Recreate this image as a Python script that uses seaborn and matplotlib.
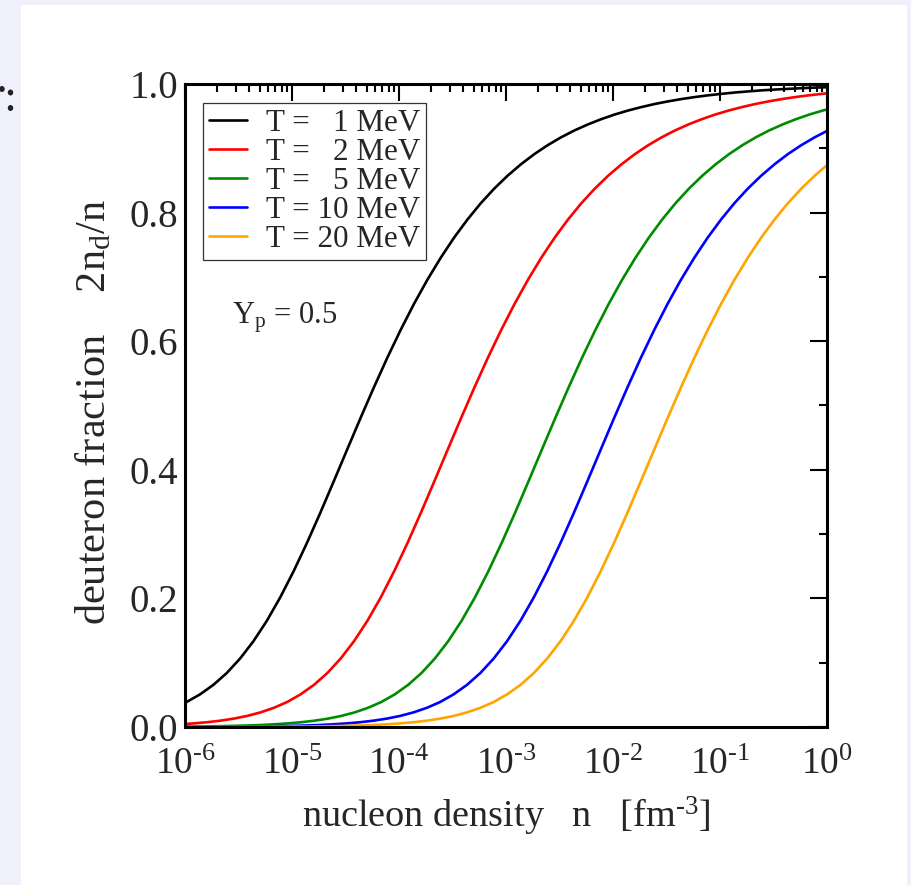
import numpy as np
import pandas as pd
import matplotlib
matplotlib.use("Agg")
import matplotlib.pyplot as plt
from matplotlib.patches import Rectangle
from matplotlib.ticker import LogLocator, MultipleLocator, FixedLocator, FuncFormatter, NullFormatter
import seaborn as sns

# log10 of nucleon density n [fm^-3] and deuteron fraction 2 n_d / n, one pair per temperature
log_n_T1 = [-6.110, -5.985, -5.860, -5.735, -5.610, -5.485, -5.360, -5.235, -5.110, -4.985,
            -4.860, -4.735, -4.610, -4.485, -4.360, -4.235, -4.110, -3.985, -3.860, -3.735,
            -3.610, -3.485, -3.360, -3.235, -3.110, -2.985, -2.860, -2.735, -2.610, -2.485,
            -2.360, -2.235, -2.110, -1.985, -1.860, -1.735, -1.610, -1.485, -1.360, -1.235,
            -1.110, -0.985, -0.860, -0.735, -0.610, -0.485, -0.360, -0.235, -0.110, 0.015]
frac_T1 = [0.0298, 0.0389, 0.0507, 0.0655, 0.0839, 0.1065, 0.1335, 0.1652, 0.2016, 0.2422,
           0.2864, 0.3333, 0.3820, 0.4313, 0.4803, 0.5281, 0.5740, 0.6174, 0.6580, 0.6955,
           0.7298, 0.7611, 0.7893, 0.8147, 0.8373, 0.8574, 0.8752, 0.8910, 0.9049, 0.9171,
           0.9278, 0.9371, 0.9453, 0.9525, 0.9587, 0.9641, 0.9689, 0.9730, 0.9766, 0.9797,
           0.9824, 0.9847, 0.9868, 0.9885, 0.9901, 0.9914, 0.9925, 0.9935, 0.9944, 0.9951]

log_n_T2 = [-6.045, -5.920, -5.795, -5.670, -5.545, -5.420, -5.295, -5.170, -5.045, -4.920,
            -4.795, -4.670, -4.545, -4.420, -4.295, -4.170, -4.045, -3.920, -3.795, -3.670,
            -3.545, -3.420, -3.295, -3.170, -3.045, -2.920, -2.795, -2.670, -2.545, -2.420,
            -2.295, -2.170, -2.045, -1.920, -1.795, -1.670, -1.545, -1.420, -1.295, -1.170,
            -1.045, -0.920, -0.795, -0.670, -0.545, -0.420, -0.295, -0.170, -0.045, 0.080]
frac_T2 = [0.0042, 0.0056, 0.0074, 0.0098, 0.0130, 0.0172, 0.0227, 0.0298, 0.0389, 0.0507,
           0.0655, 0.0839, 0.1065, 0.1335, 0.1652, 0.2016, 0.2422, 0.2864, 0.3333, 0.3820,
           0.4313, 0.4803, 0.5281, 0.5740, 0.6174, 0.6580, 0.6955, 0.7298, 0.7611, 0.7893,
           0.8147, 0.8373, 0.8574, 0.8752, 0.8910, 0.9049, 0.9171, 0.9278, 0.9371, 0.9453,
           0.9525, 0.9587, 0.9641, 0.9689, 0.9730, 0.9766, 0.9797, 0.9824, 0.9847, 0.9868]

log_n_T5 = [-6.040, -5.915, -5.790, -5.665, -5.540, -5.415, -5.290, -5.165, -5.040, -4.915,
            -4.790, -4.665, -4.540, -4.415, -4.290, -4.165, -4.040, -3.915, -3.790, -3.665,
            -3.540, -3.415, -3.290, -3.165, -3.040, -2.915, -2.790, -2.665, -2.540, -2.415,
            -2.290, -2.165, -2.040, -1.915, -1.790, -1.665, -1.540, -1.415, -1.290, -1.165,
            -1.040, -0.915, -0.790, -0.665, -0.540, -0.415, -0.290, -0.165, -0.040, 0.085]
frac_T5 = [0.0006, 0.0007, 0.0010, 0.0013, 0.0018, 0.0024, 0.0031, 0.0042, 0.0056, 0.0074,
           0.0098, 0.0130, 0.0172, 0.0227, 0.0298, 0.0389, 0.0507, 0.0655, 0.0839, 0.1065,
           0.1335, 0.1652, 0.2016, 0.2422, 0.2864, 0.3333, 0.3820, 0.4313, 0.4803, 0.5281,
           0.5740, 0.6174, 0.6580, 0.6955, 0.7298, 0.7611, 0.7893, 0.8147, 0.8373, 0.8574,
           0.8752, 0.8910, 0.9049, 0.9171, 0.9278, 0.9371, 0.9453, 0.9525, 0.9587, 0.9641]

log_n_T10 = [-6.115, -5.990, -5.865, -5.740, -5.615, -5.490, -5.365, -5.240, -5.115, -4.990,
             -4.865, -4.740, -4.615, -4.490, -4.365, -4.240, -4.115, -3.990, -3.865, -3.740,
             -3.615, -3.490, -3.365, -3.240, -3.115, -2.990, -2.865, -2.740, -2.615, -2.490,
             -2.365, -2.240, -2.115, -1.990, -1.865, -1.740, -1.615, -1.490, -1.365, -1.240,
             -1.115, -0.990, -0.865, -0.740, -0.615, -0.490, -0.365, -0.240, -0.115, 0.010]
frac_T10 = [0.0001, 0.0002, 0.0002, 0.0003, 0.0004, 0.0006, 0.0007, 0.0010, 0.0013, 0.0018,
            0.0024, 0.0031, 0.0042, 0.0056, 0.0074, 0.0098, 0.0130, 0.0172, 0.0227, 0.0298,
            0.0389, 0.0507, 0.0655, 0.0839, 0.1065, 0.1335, 0.1652, 0.2016, 0.2422, 0.2864,
            0.3333, 0.3820, 0.4313, 0.4803, 0.5281, 0.5740, 0.6174, 0.6580, 0.6955, 0.7298,
            0.7611, 0.7893, 0.8147, 0.8373, 0.8574, 0.8752, 0.8910, 0.9049, 0.9171, 0.9278]

log_n_T20 = [-6.115, -5.990, -5.865, -5.740, -5.615, -5.490, -5.365, -5.240, -5.115, -4.990,
             -4.865, -4.740, -4.615, -4.490, -4.365, -4.240, -4.115, -3.990, -3.865, -3.740,
             -3.615, -3.490, -3.365, -3.240, -3.115, -2.990, -2.865, -2.740, -2.615, -2.490,
             -2.365, -2.240, -2.115, -1.990, -1.865, -1.740, -1.615, -1.490, -1.365, -1.240,
             -1.115, -0.990, -0.865, -0.740, -0.615, -0.490, -0.365, -0.240, -0.115, 0.010]
frac_T20 = [0.0000, 0.0001, 0.0001, 0.0001, 0.0001, 0.0002, 0.0002, 0.0003, 0.0004, 0.0006,
            0.0007, 0.0010, 0.0013, 0.0018, 0.0024, 0.0031, 0.0042, 0.0056, 0.0074, 0.0098,
            0.0130, 0.0172, 0.0227, 0.0298, 0.0389, 0.0507, 0.0655, 0.0839, 0.1065, 0.1335,
            0.1652, 0.2016, 0.2422, 0.2864, 0.3333, 0.3820, 0.4313, 0.4803, 0.5281, 0.5740,
            0.6174, 0.6580, 0.6955, 0.7298, 0.7611, 0.7893, 0.8147, 0.8373, 0.8574, 0.8752]

series_labels = ["T =   1 MeV", "T =   2 MeV", "T =   5 MeV", "T = 10 MeV", "T = 20 MeV"]
series_colors = ["#000000", "#ff0000", "#008c00", "#0000ff", "#ffa500"]
x_tick_exponents = [-6, -5, -4, -3, -2, -1, 0]
y_ticks = [0.0, 0.2, 0.4, 0.6, 0.8, 1.0]

# long-form table for seaborn
frames = []
for lab, xs, ys in zip(series_labels,
                       [log_n_T1, log_n_T2, log_n_T5, log_n_T10, log_n_T20],
                       [frac_T1, frac_T2, frac_T5, frac_T10, frac_T20]):
    frames.append(pd.DataFrame({"n": np.power(10.0, xs), "fraction": ys, "T": lab}))
data = pd.concat(frames, ignore_index=True)

sns.set_style("white")
plt.rcParams["font.family"] = ["Liberation Serif", "DejaVu Serif"]
plt.rcParams["mathtext.fontset"] = "custom"
plt.rcParams["mathtext.rm"] = "Liberation Serif"
plt.rcParams["mathtext.it"] = "Liberation Serif"
plt.rcParams["mathtext.bf"] = "Liberation Serif"

W, H = 912, 885
fig = plt.figure(figsize=(W / 100, H / 100), dpi=100)
fig.patch.set_facecolor("#eff0fb")
fig.add_artist(Rectangle((21 / W, 0), (907 - 21) / W, 1 - 5 / H,
                         transform=fig.transFigure, facecolor="white",
                         edgecolor="none", zorder=-5))

ax = fig.add_axes([185 / W, 1 - 727 / H, 642 / W, 643 / H])
sns.lineplot(data=data, x="n", y="fraction", hue="T", hue_order=series_labels,
             palette=series_colors, linewidth=1.9, legend=False, sort=False,
             estimator=None, ax=ax)

ax.set_xscale("log")
ax.set_xlim(1e-6, 1.0)
ax.set_ylim(0.0, 1.0)

ax.xaxis.set_major_locator(FixedLocator([10.0 ** e for e in x_tick_exponents]))
ax.xaxis.set_minor_locator(LogLocator(base=10, subs=np.arange(2, 10), numticks=20))
ax.xaxis.set_minor_formatter(NullFormatter())


def pow_label(v, pos):
    e = int(round(np.log10(v)))
    return r"$10^{\mathrm{%s}}$" % (("\u2010%d" % -e) if e < 0 else "%d" % e)


ax.xaxis.set_major_formatter(FuncFormatter(pow_label))
ax.yaxis.set_major_locator(FixedLocator(y_ticks))
ax.yaxis.set_minor_locator(MultipleLocator(0.1))
ax.yaxis.set_major_formatter(FuncFormatter(lambda v, p: "%.1f" % v))

for side in ax.spines.values():
    side.set_linewidth(2.2)
    side.set_color("black")

ax.tick_params(which="both", direction="in", top=True, right=True, width=1.5, color="black")
ax.tick_params(which="major", length=12.5)
ax.tick_params(which="minor", length=6)
ax.tick_params(axis="y", which="major", labelsize=28, pad=5)
ax.tick_params(axis="x", which="major", labelsize=27, pad=15)

ax.set_xlabel("nucleon density   n   [fm$^{\\mathrm{\u20103}}$]", fontsize=27.5, va="baseline")
ax.xaxis.set_label_coords(0.5, -0.157)
ax.set_ylabel("deuteron fraction    2n$_\\mathrm{d}$/n", fontsize=30.5, va="baseline")
ax.yaxis.set_label_coords(-0.1246, 0.49)

lines = ax.get_lines()[:len(series_labels)]
leg = ax.legend(lines, series_labels, loc="upper left", bbox_to_anchor=(0.028, 0.9705),
                borderaxespad=0, fontsize=22.4, frameon=True, fancybox=False,
                handlelength=1.22, handletextpad=0.6, labelspacing=0.0,
                borderpad=0.2)
leg.get_frame().set_edgecolor("black")
leg.get_frame().set_linewidth(0.9)
for h in leg.get_lines():
    h.set_linewidth(1.9)

ax.text(0.0732, 0.628, "Y$_\\mathrm{p}$ = 0.5", transform=ax.transAxes,
        fontsize=22, ha="left", va="baseline")

# fragment of a caption running off the left edge
fig.text(10 / W, 1 - 111 / H, ":", fontsize=34, ha="center", va="baseline", color="#222222")
fig.text(1.5 / W, 1 - 92 / H, ".", fontsize=34, ha="center", va="baseline", color="#222222")

fig.savefig("out.png", dpi=100, facecolor=fig.get_facecolor())
